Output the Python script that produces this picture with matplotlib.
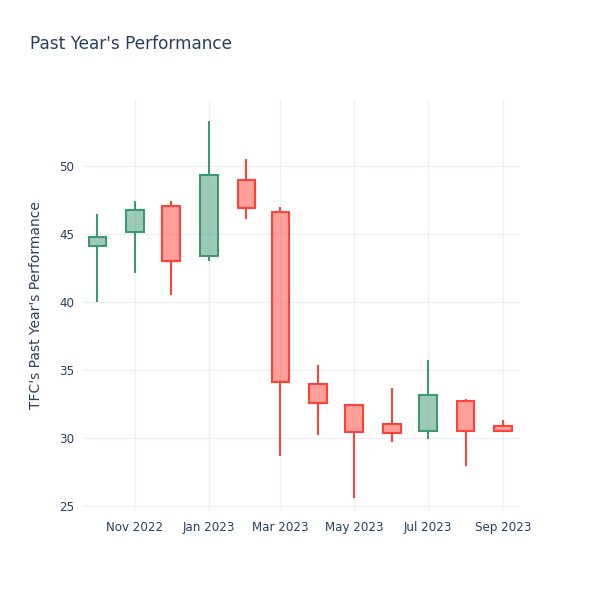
import matplotlib
matplotlib.use("Agg")
import matplotlib.pyplot as plt
import matplotlib.dates as mdates
import numpy as np
from datetime import datetime, timedelta

# monthly OHLC
months = ["2022-10-01", "2022-11-01", "2022-12-01", "2023-01-01", "2023-02-01", "2023-03-01",
          "2023-04-01", "2023-05-01", "2023-06-01", "2023-07-01", "2023-08-01", "2023-09-01"]
open_ = [44.1, 45.15, 47.05, 43.4, 48.95, 46.6, 34.0, 32.4, 31.0, 30.5, 32.75, 30.85]
high = [46.5, 47.4, 47.4, 53.3, 50.5, 47.0, 35.35, 32.5, 33.7, 35.7, 32.9, 31.3]
low = [40.0, 42.1, 40.55, 43.0, 46.1, 28.7, 30.25, 25.55, 29.7, 29.9, 27.95, 30.5]
close = [44.8, 46.8, 43.0, 49.35, 46.95, 34.1, 32.55, 30.45, 30.35, 33.15, 30.5, 30.5]

tick_dates = ["2022-11-01", "2023-01-01", "2023-03-01", "2023-05-01", "2023-07-01", "2023-09-01"]
y_ticks = [25, 30, 35, 40, 45, 50]

inc_line, inc_fill = "#3D9970", (61/255, 153/255, 112/255, 0.5)
dec_line, dec_fill = "#FF4136", (255/255, 65/255, 54/255, 0.5)
txt = "#2a3f5f"
grid = "#EBF0F8"

plt.rcParams['font.family'] = ['DejaVu Sans']

fig = plt.figure(figsize=(6, 6), dpi=100)
ax = fig.add_axes([0.138, 0.15, 0.729, 0.683])

x = mdates.date2num([datetime.strptime(m, "%Y-%m-%d") for m in months])
width = 14.5

for xi, o, h, l, c in zip(x, open_, high, low, close):
    up = c >= o
    lc = inc_line if up else dec_line
    fc = inc_fill if up else dec_fill
    lo, hi = min(o, c), max(o, c)
    ax.vlines(xi, l, lo, color=lc, lw=1.5, zorder=3)
    ax.vlines(xi, hi, h, color=lc, lw=1.5, zorder=3)
    ax.bar(xi, hi - lo, bottom=lo, width=width, color=fc, edgecolor=lc,
           linewidth=1.5, zorder=4)

ax.set_ylim(24.7, 54.85)
ax.set_xlim(mdates.date2num(datetime(2022, 9, 19)), mdates.date2num(datetime(2023, 9, 15)))
ax.set_yticks(y_ticks)
ax.set_xticks(mdates.date2num([datetime.strptime(d, "%Y-%m-%d") for d in tick_dates]))
ax.xaxis.set_major_formatter(mdates.DateFormatter("%b %Y"))

ax.grid(True, color=grid, lw=1, zorder=0)
ax.set_axisbelow(True)
for s in ax.spines.values():
    s.set_visible(False)
ax.tick_params(length=0, colors=txt, labelsize=8.6, pad=6)
ax.tick_params(axis='x', pad=8)

ax.set_ylabel("TFC's Past Year's Performance", color=txt, fontsize=10, labelpad=12)
fig.text(0.05, 0.927, "Past Year's Performance", color=txt, fontsize=12.2, va='center')

fig.savefig("out.png", dpi=100, facecolor="white")
